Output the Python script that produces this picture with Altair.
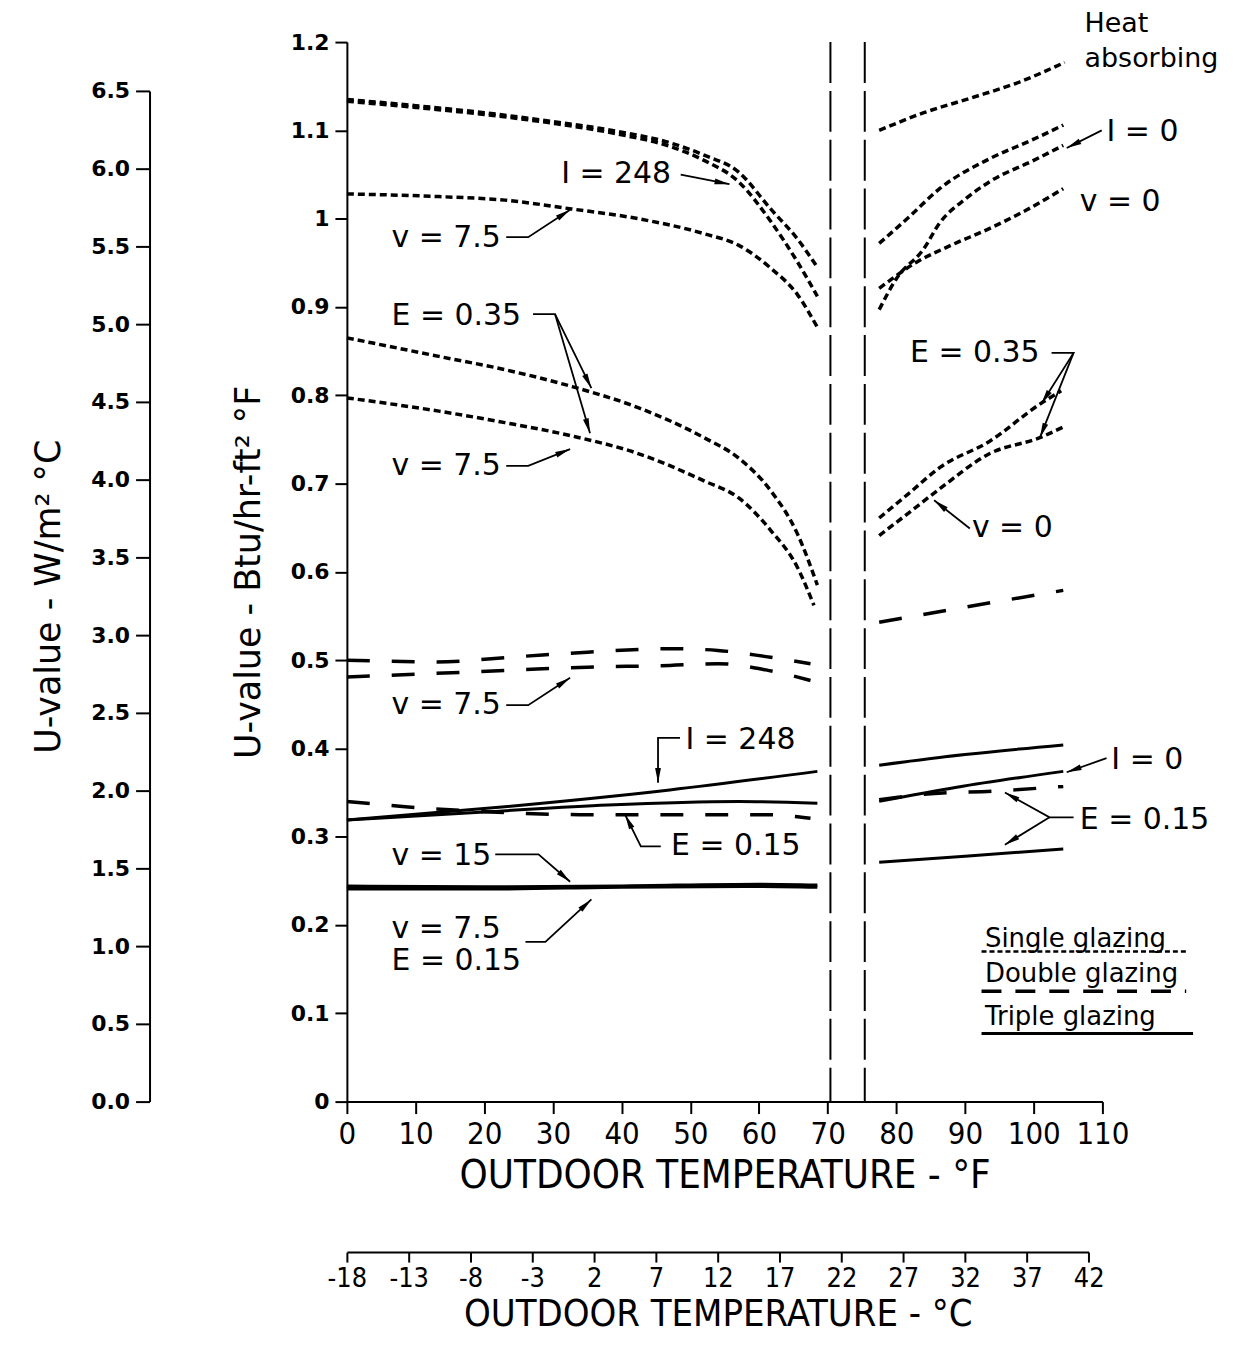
import math
import altair as alt
import pandas as pd

# ---------------------------------------------------------------- data
F_TICKS = list(range(0, 111, 10))
U_TICKS = [round(0.1 * i, 1) for i in range(13)]
W_TICKS = [round(0.5 * i, 1) for i in range(14)]
C_TICKS = list(range(-18, 43, 5))
SPLIT_LINES = [70.4, 75.4]
W_TO_BTU = 0.17611

# single glazing (heating side, F < 70)
sg_l_base = [(0, 1.135), (10, 1.128), (20, 1.120), (30, 1.110), (40, 1.098), (47, 1.086),
             (52, 1.072), (57, 1.053), (61.7, 1.011), (65.6, 0.977), (68.5, 0.945)]
sg_l_i248 = [(0, 1.133), (10, 1.126), (20, 1.118), (30, 1.108), (40, 1.095), (47, 1.082),
             (52, 1.066), (57, 1.042), (61.7, 0.997), (65.6, 0.951), (68.5, 0.912)]
sg_l_v75 = [(0, 1.028), (13.4, 1.025), (23, 1.021), (32.7, 1.011), (42.4, 1.000), (52, 0.983),
            (57, 0.970), (61.7, 0.944), (65.6, 0.914), (68.5, 0.877)]
sg_l_e35 = [(0, 0.865), (13.4, 0.844), (23, 0.829), (32.7, 0.810), (42.4, 0.786), (52, 0.752),
            (57, 0.729), (61.7, 0.692), (65.6, 0.643), (68.5, 0.585)]
sg_l_e35v = [(0, 0.797), (13.4, 0.782), (23, 0.769), (32.7, 0.754), (42.4, 0.734), (52, 0.703),
             (57, 0.684), (61.7, 0.647), (65.6, 0.605), (68, 0.562)]
# single glazing (cooling side, F > 75)
sg_r_heat = [(77.5, 1.100), (84, 1.120), (91, 1.137), (98, 1.155), (104.5, 1.177)]
sg_r_base = [(77.5, 0.972), (82, 1.003), (86.3, 1.034), (93.6, 1.068), (100, 1.090), (104.3, 1.106)]
sg_r_i0 = [(77.5, 0.897), (80, 0.932), (84, 0.966), (86.3, 0.995), (90, 1.022), (93.6, 1.042),
           (100, 1.066), (104.3, 1.083)]
sg_r_v0 = [(77.5, 0.921), (83, 0.951), (88, 0.970), (93.6, 0.989), (99, 1.010), (104.3, 1.034)]
sg_r_e35 = [(77.5, 0.661), (82, 0.690), (86.3, 0.718), (93.6, 0.748), (100.9, 0.790), (104, 0.805)]
sg_r_e35v = [(77.5, 0.641), (82, 0.668), (86.3, 0.694), (93.6, 0.734), (100.9, 0.752), (104.3, 0.764)]

# double glazing
dg_l_base = [(0, 0.500), (13, 0.498), (25, 0.504), (35, 0.509), (47, 0.513), (54, 0.511),
             (61, 0.504), (67.5, 0.496)]
dg_l_v75 = [(0, 0.481), (13, 0.485), (25, 0.489), (35, 0.492), (47, 0.494), (54, 0.496),
            (61, 0.489), (67.5, 0.477)]
dg_l_e15 = [(0, 0.340), (8.5, 0.334), (21, 0.328), (34, 0.325), (47, 0.325), (61, 0.325), (67.5, 0.321)]
dg_r_base = [(77.5, 0.543), (90, 0.560), (104.3, 0.579)]
dg_r_e15 = [(77.5, 0.342), (84, 0.348), (95, 0.352), (104.3, 0.357)]

# triple glazing
tg_l_i248 = [(0, 0.319), (23, 0.334), (47, 0.353), (68.5, 0.374)]
tg_l_base = [(0, 0.319), (20, 0.328), (38, 0.336), (57, 0.340), (68.5, 0.338)]
tg_l_v15 = [(0, 0.244), (20, 0.243), (40, 0.244), (60, 0.246), (68.5, 0.245)]
tg_l_e15 = [(0, 0.241), (20, 0.241), (40, 0.243), (60, 0.244), (68.5, 0.243)]
tg_r_base = [(77.5, 0.381), (90, 0.393), (104.3, 0.404)]
tg_r_i0 = [(77.5, 0.340), (88.8, 0.356), (104.3, 0.374)]
tg_r_e15 = [(77.5, 0.271), (90, 0.278), (104.3, 0.286)]

# curve annotations
ANN_TEXT = ["I = 248", "v = 7.5", "E = 0.35", "v = 7.5", "v = 7.5", "I = 248", "E = 0.15",
            "v = 15", "v = 7.5", "E = 0.15", "I = 0", "v = 0", "E = 0.35", "v = 0", "I = 0",
            "E = 0.15"]
ANN_F = [31.2, 6.5, 6.5, 6.5, 6.5, 49.3, 47.2, 6.5, 6.5, 6.5, 110.6, 106.7, 82.0, 91.0,
         111.3, 106.7]
ANN_U = [1.050, 0.978, 0.890, 0.720, 0.449, 0.410, 0.289, 0.278, 0.195, 0.159, 1.098, 1.019,
         0.848, 0.650, 0.387, 0.319]

HEAT_TEXT = ["Heat", "absorbing"]
HEAT_F = [107.4, 107.4]
HEAT_U = [1.220, 1.181]

# leader lines (last point is the arrow tip)
LEADERS = [
    [(48.6, 1.050), (55.7, 1.039)],
    [(23.2, 0.979), (26.4, 0.979), (32.5, 1.010)],
    [(27.1, 0.892), (30.3, 0.892), (35.6, 0.808)],
    [(30.3, 0.892), (35.4, 0.757)],
    [(23.2, 0.720), (26.4, 0.720), (32.5, 0.739)],
    [(23.2, 0.449), (26.4, 0.449), (32.5, 0.480)],
    [(48.5, 0.412), (45.3, 0.412), (45.3, 0.361)],
    [(45.7, 0.289), (42.8, 0.289), (40.5, 0.325)],
    [(21.6, 0.280), (27.9, 0.280), (32.5, 0.249)],
    [(26.0, 0.181), (28.9, 0.181), (35.6, 0.229)],
    [(109.9, 1.100), (104.8, 1.080)],
    [(102.6, 0.848), (105.8, 0.848), (101.1, 0.790)],
    [(105.8, 0.848), (100.9, 0.752)],
    [(90.7, 0.649), (85.5, 0.681)],
    [(110.6, 0.389), (104.8, 0.373)],
    [(105.8, 0.322), (102.3, 0.322), (95.8, 0.350)],
    [(102.3, 0.322), (95.8, 0.291)],
]

# key
KEY_TEXT = ["Single glazing", "Double glazing", "Triple glazing"]
KEY_TEXT_U = [0.184, 0.1445, 0.096]
KEY_F = 92.9
KEY_LINE_U = [0.170, 0.125, 0.077]
KEY_LINE_F = [(92.4, 122.2), (92.4, 122.2), (92.4, 123.2)]

# ---------------------------------------------------------------- layout
W, H = 758, 1063
XMAX, YMAX = 110, 1.2
PXF = W / XMAX
PXU = H / YMAX

NARROW = "Liberation Sans Narrow, Arial Narrow, DejaVu Sans Condensed, sans-serif"
COND = "DejaVu Sans Condensed, Liberation Sans Narrow, sans-serif"
SANS = "DejaVu Sans, sans-serif"

curves = {
    "single": [sg_l_base, sg_l_i248, sg_l_v75, sg_l_e35, sg_l_e35v,
               sg_r_heat, sg_r_base, sg_r_i0, sg_r_v0, sg_r_e35, sg_r_e35v],
    "double": [dg_l_base, dg_l_v75, dg_l_e15, dg_r_base, dg_r_e15],
    "triple": [tg_l_i248, tg_l_base, tg_r_base, tg_r_i0, tg_r_e15],
    "triple_heavy": [tg_l_v15, tg_l_e15],
}
rows = []
for kind, lst in curves.items():
    for i, c in enumerate(lst):
        for f, u in c:
            rows.append({"kind": kind, "curve": f"{kind}{i}", "F": f, "U": u})
curve_df = pd.DataFrame(rows)

x_axis = alt.Axis(values=F_TICKS, title="OUTDOOR TEMPERATURE - °F", grid=False,
                  tickSize=12, tickWidth=2, domainWidth=2, domainColor="black",
                  tickColor="black", labelColor="black", labelFont=NARROW,
                  labelFontSize=31, labelPadding=6, labelFlush=False, labelOverlap=False,
                  titleFont=COND, titleFontSize=40, titleFontWeight="normal",
                  titleColor="black", titlePadding=6)
y_axis = alt.Axis(values=U_TICKS, format="~g", title="U-value - Btu/hr-ft² °F", grid=False,
                  tickSize=12, tickWidth=2, domainWidth=2, domainColor="black",
                  tickColor="black", labelColor="black", labelFont=SANS,
                  labelFontWeight="bold", labelFontSize=22, labelPadding=6,
                  labelFlush=False, labelOverlap=False,
                  titleFont=SANS, titleFontSize=35, titleFontWeight="normal",
                  titleColor="black", titlePadding=24)
X = alt.X("F:Q", scale=alt.Scale(domain=[0, XMAX], nice=False, zero=False), axis=x_axis)
Y = alt.Y("U:Q", scale=alt.Scale(domain=[0, YMAX], nice=False, zero=False), axis=y_axis)


def curve_layer(kind, **style):
    return alt.Chart(curve_df[curve_df.kind == kind]).mark_line(
        color="black", interpolate="monotone", **style
    ).encode(x=X, y=Y, detail="curve:N")


single = curve_layer("single", strokeDash=[7, 4], strokeWidth=3.5)
double = curve_layer("double", strokeDash=[23, 22], strokeWidth=3.5)
triple = curve_layer("triple", strokeWidth=3)
triple_heavy = curve_layer("triple_heavy", strokeWidth=3.5)

splits = alt.Chart(pd.DataFrame({"F": SPLIT_LINES})).mark_rule(
    color="black", strokeWidth=2, strokeDash=[41, 8]
).encode(x=X)

ann = alt.Chart(pd.DataFrame({"F": ANN_F, "U": ANN_U, "t": ANN_TEXT})).mark_text(
    align="left", baseline="middle", font=SANS, fontSize=30, color="black"
).encode(x=X, y=Y, text="t:N")

heat = alt.Chart(pd.DataFrame({"F": HEAT_F, "U": HEAT_U, "t": HEAT_TEXT})).mark_text(
    align="left", baseline="middle", font=SANS, fontSize=27, color="black"
).encode(x=X, y=Y, text="t:N")

lrows, trows = [], []
for i, pts in enumerate(LEADERS):
    for k, (f, u) in enumerate(pts):
        lrows.append({"id": i, "k": k, "F": f, "U": u})
    (f0, u0), (f1, u1) = pts[-2], pts[-1]
    ang = math.degrees(math.atan2((f1 - f0) * PXF, (u1 - u0) * PXU)) % 360
    trows.append({"F": f1, "U": u1, "a": ang})

leaders = alt.Chart(pd.DataFrame(lrows)).mark_line(color="black", strokeWidth=1.8).encode(
    x=X, y=Y, detail="id:N", order="k:Q")
ARROW = "M0,0L0.45,2.3L-0.45,2.3Z"
heads = alt.Chart(pd.DataFrame(trows)).mark_point(
    shape=ARROW, filled=True, color="black", opacity=1, size=170, strokeWidth=0
).encode(x=X, y=Y, angle=alt.Angle("a:Q", scale=None))

key_text = alt.Chart(pd.DataFrame({"F": [KEY_F] * 3, "U": KEY_TEXT_U, "t": KEY_TEXT})).mark_text(
    align="left", baseline="middle", font=SANS, fontSize=26, color="black"
).encode(x=X, y=Y, text="t:N")


def key_line(i, **style):
    f0, f1 = KEY_LINE_F[i]
    d = pd.DataFrame({"F": [f0, f1], "U": [KEY_LINE_U[i]] * 2})
    return alt.Chart(d).mark_line(color="black", **style).encode(x=X, y=Y)


key1 = key_line(0, strokeDash=[5, 3], strokeWidth=2.5)
key2 = key_line(1, strokeDash=[20, 14], strokeWidth=3.5)
key3 = key_line(2, strokeWidth=3)

main = alt.layer(splits, single, double, triple, triple_heavy, leaders, heads, ann, heat,
                 key_text, key1, key2, key3)

# secondary axis: W/m2 C on the left
w_top = H - (W_TICKS[-1] * W_TO_BTU / YMAX) * H
w_layer = alt.Chart(pd.DataFrame({"Wv": W_TICKS})).mark_point(opacity=0).encode(
    y=alt.Y("Wv:Q",
            scale=alt.Scale(domain=[0, W_TICKS[-1]], range=[H, w_top], nice=False, zero=False),
            axis=alt.Axis(orient="left", offset=198, values=W_TICKS, format=".1f",
                          title="U-value - W/m² °C", grid=False, tickSize=14, tickWidth=2,
                          domainWidth=2, domainColor="black", tickColor="black",
                          labelColor="black", labelFont=SANS, labelFontWeight="bold",
                          labelFontSize=22, labelPadding=6, labelFlush=False,
                          labelOverlap=False, titleFont=SANS, titleFontSize=35,
                          titleFontWeight="normal", titleColor="black", titlePadding=24))
)

# secondary axis: Celsius at the bottom
c_span = (C_TICKS[-1] - C_TICKS[0]) * 1.8 * PXF
c_layer = alt.Chart(pd.DataFrame({"Cv": C_TICKS})).mark_point(opacity=0).encode(
    x=alt.X("Cv:Q",
            scale=alt.Scale(domain=[C_TICKS[0], C_TICKS[-1]], range=[0, c_span], nice=False,
                            zero=False),
            axis=alt.Axis(orient="bottom", offset=151, values=C_TICKS,
                          labelExpr="datum.value < 0 ? '-' + abs(datum.value) : '' + datum.value",
                          title="OUTDOOR TEMPERATURE - °C", grid=False, tickSize=10,
                          tickWidth=2, domainWidth=2, domainColor="black", tickColor="black",
                          labelColor="black", labelFont=NARROW, labelFontSize=27,
                          labelPadding=4, labelFlush=False, labelOverlap=False,
                          titleFont=COND, titleFontSize=38, titleFontWeight="normal",
                          titleColor="black", titlePadding=4))
)

chart = alt.layer(main, w_layer, c_layer).resolve_scale(
    x="independent", y="independent"
).properties(
    width=W, height=H,
    autosize=alt.AutoSizeParams(type="none"),
    padding={"left": 340, "top": 32, "right": 125, "bottom": 241},
    background="white",
).configure_view(stroke=None)

chart.save("out.html", embed_options={"renderer": "svg", "actions": False})
